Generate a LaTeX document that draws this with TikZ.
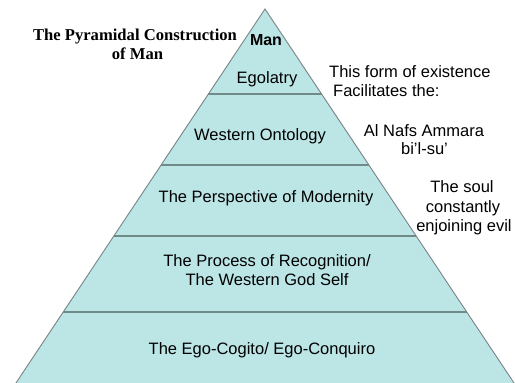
\documentclass[tikz,border=0pt]{standalone}
\usepackage{fontspec}
\setmainfont{Liberation Sans}
\newfontfamily\titlefont{Liberation Serif}
\usetikzlibrary{calc}
\definecolor{pyrfill}{RGB}{188,229,230}
\definecolor{pyredge}{RGB}{120,132,132}
\definecolor{pyrdiv}{RGB}{112,138,138}
\tikzset{
  lbl/.style={inner sep=0pt, anchor=base, font=\fontsize{16.5}{19.5}\selectfont},
  lblleft/.style={lbl, anchor=base west},
  ttl/.style={inner sep=0pt, anchor=base, font=\titlefont\bfseries\fontsize{16.6}{19}\selectfont},
  divider/.style={draw=pyrdiv, line width=1.3pt},
  pyr/.style={fill=pyrfill, draw=pyredge, line width=0.9pt}
}
\begin{document}
\begin{tikzpicture}[x=1pt,y=-1pt]
\useasboundingbox (0,0) rectangle (515,383);
\clip (0,0) rectangle (515,383);
\coordinate (A) at (265,9);
\coordinate (L) at (11.3,390);
\coordinate (R) at (518.7,390);
\path[pyr] (A) -- (L) -- (R) -- cycle;
% dividers
\foreach \t/\n in {0.2231/1,0.4094/2,0.5958/3,0.7953/4}{
  \coordinate (dl\n) at ($(A)!\t!(L)$);
  \coordinate (dr\n) at ($(A)!\t!(R)$);
  \draw[divider] (dl\n) -- (dr\n);
}
% pyramid labels
\node[lbl, font=\bfseries\fontsize{16}{19}\selectfont] (man) at (266,45) {Man};
\node[lbl] (ego) at (267,83) {Egolatry};
\node[lbl] (west) at (260,140.7) {Western Ontology};
\node[lbl] (pers) at (266,202.3) {The Perspective of Modernity};
\node[lbl] (proc1) at (267,266.7) {The Process of Recognition/};
\node[lbl] (proc2) at (267,285) {The Western God Self};
\node[lbl] (cog) at (262,354) {The Ego-Cogito/ Ego-Conquiro};
% title
\node[ttl] (t1) at (135,40) {The Pyramidal Construction};
\node[ttl] (t2) at (137.5,59) {of Man};
% right notes
\node[lblleft] (f1) at (329,77.3) {This form of existence};
\node[lblleft] (f2) at (333,96.7) {Facilitates the:};
\node[lbl] (n1) at (424,136) {Al Nafs Ammara};
\node[lbl] (n2) at (424.5,154) {bi’l-su’};
\node[lbl] (s1) at (462,192.7) {The soul};
\node[lbl] (s2) at (463,212.5) {constantly};
\node[lbl] (s3) at (464,231.7) {enjoining evil};
\end{tikzpicture}
\end{document}
